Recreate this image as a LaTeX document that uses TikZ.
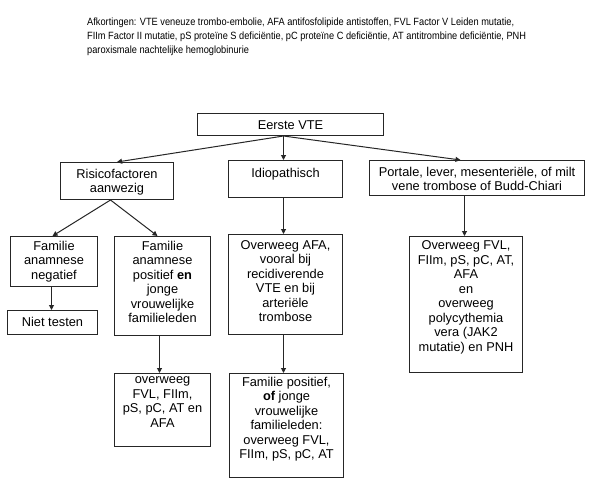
\documentclass[tikz,border=0pt]{standalone}
\usepackage{fontspec}
\setmainfont{Liberation Sans}
\newfontfamily\abbrfont{Liberation Sans}[FakeStretch=0.88]
\usetikzlibrary{arrows.meta}
\tikzset{
  box/.style={draw=black!85, line width=1pt, inner sep=0pt, anchor=north west},
  lbl/.style={anchor=north, align=center, inner sep=0pt,
    font=\fontsize{12.8}{14.5}\selectfont,
    execute at begin node=\rule{0pt}{10pt}},
  conn/.style={draw=black!85, line width=1pt, -{Triangle[length=5pt,width=5pt]}},
}
\begin{document}
\begin{tikzpicture}[x=1pt,y=-1pt]
\useasboundingbox (0,0) rectangle (605,499);

\node[anchor=north west, align=left, inner sep=0pt,
      font=\abbrfont\fontsize{10.5}{13.7}\selectfont,
      execute at begin node=\rule{0pt}{8pt}] (abbr) at (87,18)
  {Afkortingen: VTE veneuze trombo-embolie, AFA antifosfolipide antistoffen, FVL Factor V Leiden mutatie,\\
   FIIm Factor II mutatie, pS proteïne S deficiëntie, pC proteïne C deficiëntie, AT antitrombine deficiëntie, PNH\\
   paroxismale nachtelijke hemoglobinurie};

\node[box, minimum width=186pt, minimum height=22pt,
  label={[lbl, yshift=-6.3pt]north:Eerste VTE}] (eerste) at (197,113) {};
\node[box, minimum width=113pt, minimum height=37pt,
  label={[lbl, yshift=-6.7pt]north:Risicofactoren\\aanwezig}] (risk) at (60,162) {};
\node[box, minimum width=114pt, minimum height=37pt,
  label={[lbl, yshift=-7.3pt]north:Idiopathisch}] (idio) at (228,160) {};
\node[box, minimum width=215pt, minimum height=35pt,
  label={[lbl, yshift=-6.7pt]north:Portale, lever, mesenteriële, of milt\\vene trombose of Budd-Chiari}] (port) at (369,160) {};

\node[box, minimum width=87pt, minimum height=50pt,
  label={[lbl, yshift=-4.7pt]north:Familie\\anamnese\\negatief}] (fneg) at (10,236) {};
\node[box, minimum width=90pt, minimum height=24pt,
  label={[lbl, yshift=-6pt]north:Niet testen}] (niet) at (7,310) {};
\node[box, minimum width=96pt, minimum height=99pt,
  label={[lbl, yshift=-4.7pt]north:Familie\\anamnese\\positief \textbf{en}\\jonge\\vrouwelijke\\familieleden}] (fpos) at (114,236) {};
\node[box, minimum width=114pt, minimum height=100pt,
  label={[lbl, yshift=-6pt]north:Overweeg AFA,\\vooral bij\\recidiverende\\VTE en bij\\arteriële\\trombose}] (afa) at (228,234) {};
\node[box, minimum width=113pt, minimum height=136pt,
  label={[lbl, yshift=-4.7pt]north:Overweeg FVL,\\FIIm, pS, pC, AT,\\AFA\\en\\overweeg\\polycythemia\\vera (JAK2\\mutatie) en PNH}] (fvl) at (409,236) {};

\node[box, minimum width=96pt, minimum height=73pt,
  label={[lbl, yshift=-3.7pt]north:overweeg\\FVL, FIIm,\\pS, pC, AT en\\AFA}] (ovw) at (114,373) {};
\node[box, minimum width=114pt, minimum height=104pt,
  label={[lbl, yshift=-3.7pt]north:Familie positief,\\\textbf{of} jonge\\vrouwelijke\\familieleden:\\overweeg FVL,\\FIIm, pS, pC, AT}] (fpos2) at (229,373) {};

\coordinate (start) at ([xshift=-7pt]eerste.south);
\draw[conn] (start) -- (risk.north);
\draw[conn] (start) -- ([xshift=-2pt]idio.north);
\draw[conn] (start) -- ([xshift=-16.5pt]port.north);
\draw[conn] ([xshift=-6.5pt]risk.south) -- ([xshift=-1.5pt]fneg.north);
\draw[conn] ([xshift=-6.5pt]risk.south) -- ([xshift=-5pt]fpos.north);
\draw[conn] ([xshift=-2.5pt]fneg.south) -- ([xshift=-1pt]niet.north);
\draw[conn] ([xshift=-2pt]idio.south) -- ([xshift=-2pt]afa.north);
\draw[conn] ([xshift=-1.5pt]fvl.north |- port.south) -- ([xshift=-1.5pt]fvl.north);
\draw[conn] ([xshift=-3pt]fpos.south) -- ([xshift=-3pt]ovw.north);
\draw[conn] ([xshift=-2pt]afa.south) -- ([xshift=-3pt]fpos2.north);
\end{tikzpicture}
\end{document}
